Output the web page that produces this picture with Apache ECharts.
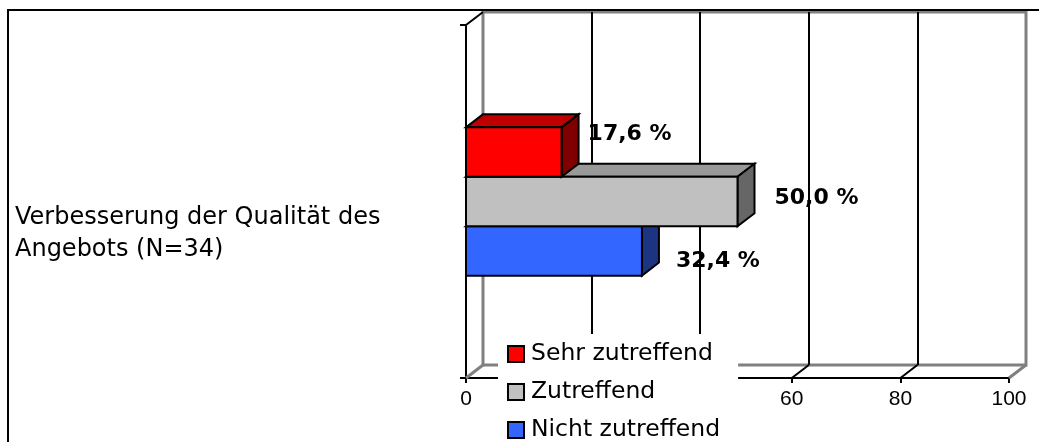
<!DOCTYPE html>
<html>
<head>
<meta charset="utf-8">
<script src="https://cdn.jsdelivr.net/npm/echarts@6/dist/echarts.min.js"></script>
<style>
  html, body { margin: 0; padding: 0; background: #fff; }
  #main { width: 1039px; height: 442px; }
</style>
</head>
<body>
<div id="main"></div>
<script>
var categories = ['Verbesserung der Qualität des\nAngebots (N=34)'];
var seriesNames = ['Sehr zutreffend', 'Zutreffend', 'Nicht zutreffend'];
var sehrZutreffend = [17.6];
var zutreffend = [50.0];
var nichtZutreffend = [32.4];
var axisTicks = [0, 20, 40, 60, 80, 100];

// 3D look: depth offset of the walls and bars
var DX = 17, DY = -13;

var looks = [
    { front: '#FF0000', top: '#C00000', side: '#800000', lx: 26, ly: -18, z: 6 },
    { front: '#C0C0C0', top: '#999999', side: '#666666', lx: 37, ly: -3, z: 5 },
    { front: '#3366FF', top: '#2648BF', side: '#1C3582', lx: 34, ly: 10, z: 4 }
];

function barSeries(k, values) {
    var look = looks[k];
    return {
        name: seriesNames[k],
        type: 'custom',
        xAxisIndex: 0,
        yAxisIndex: 0,
        z: look.z,
        itemStyle: { color: look.front, borderColor: '#000', borderWidth: 2 },
        data: values.map(function (v, i) { return [v, i]; }),
        renderItem: function (params, api) {
            var val = api.value(0);
            var cat = api.value(1);
            var p0 = api.coord([0, cat]);
            var p1 = api.coord([val, cat]);
            var band = api.size([0, 1])[1];
            var h = band * 0.14;
            var x0 = p0[0], x1 = p1[0];
            var y0 = p0[1] - 1.5 * h + k * h;
            var y1 = y0 + h;
            var line = { stroke: '#000', lineWidth: 2, lineJoin: 'miter' };
            return {
                type: 'group',
                children: [
                    { type: 'polygon', shape: { points: [[x0, y0], [x1, y0], [x1 + DX, y0 + DY], [x0 + DX, y0 + DY]] },
                      style: Object.assign({ fill: look.top }, line) },
                    { type: 'polygon', shape: { points: [[x1, y0], [x1 + DX, y0 + DY], [x1 + DX, y1 + DY], [x1, y1]] },
                      style: Object.assign({ fill: look.side }, line) },
                    { type: 'rect', shape: { x: x0, y: y0, width: x1 - x0, height: h },
                      style: Object.assign({ fill: look.front }, line) },
                    { type: 'text', x: x1 + look.lx, y: (y0 + y1) / 2 + look.ly,
                      style: { text: val.toFixed(1).replace('.', ',') + ' %', fill: '#000',
                               font: 'bold 22px "DejaVu Sans"', verticalAlign: 'middle', align: 'left' } }
                ]
            };
        }
    };
}

var option = {
    animation: false,
    backgroundColor: '#fff',
    grid: [
        { left: 466, right: 30, top: 25, bottom: 64 },
        { left: 483, right: 13, top: 12, bottom: 77, show: true,
          borderColor: '#808080', borderWidth: 3, backgroundColor: 'transparent' }
    ],
    xAxis: [
        {
            gridIndex: 0, type: 'value', min: 0, max: 100, interval: 20,
            axisLine: { show: true, lineStyle: { color: '#000', width: 2 } },
            axisTick: { show: true, length: 5, lineStyle: { color: '#000', width: 2 } },
            axisLabel: { color: '#000', fontFamily: 'Liberation Sans', fontSize: 21, margin: 11 },
            splitLine: { show: false }
        },
        {
            gridIndex: 1, type: 'value', min: 0, max: 100, interval: 20,
            axisLine: { show: false }, axisTick: { show: false }, axisLabel: { show: false },
            splitLine: { show: true, showMinLine: false, showMaxLine: false,
                         lineStyle: { color: '#000', width: 2 } }
        }
    ],
    yAxis: [
        {
            gridIndex: 0, type: 'category', data: categories, inverse: true,
            axisLine: { show: true, lineStyle: { color: '#000', width: 2 } },
            axisTick: { show: true, length: 6, lineStyle: { color: '#000', width: 2 } },
            axisLabel: { align: 'left', verticalAlign: 'top', margin: 451, color: '#000',
                         fontFamily: 'DejaVu Sans', fontSize: 24, lineHeight: 32 }
        },
        {
            gridIndex: 1, type: 'category', data: categories,
            axisLine: { show: false }, axisTick: { show: false }, axisLabel: { show: false },
            splitLine: { show: false }
        }
    ],
    legend: {
        data: seriesNames,
        orient: 'vertical',
        left: 498,
        top: 334,
        height: 108,
        backgroundColor: '#fff',
        padding: [8, 18, 4, 9],
        itemGap: 14,
        itemWidth: 16,
        itemHeight: 16,
        icon: 'rect',
        itemStyle: { borderColor: '#000', borderWidth: 2 },
        textStyle: { color: '#000', fontFamily: 'DejaVu Sans', fontSize: 23.5, lineHeight: 24, padding: [0, 0, 0, 2] }
    },
    graphic: [
        { type: 'polyline', shape: { points: [[8, 442], [8, 10], [1039, 10]] },
          style: { stroke: '#000', lineWidth: 2, fill: null } }
    ],
    series: [
        {
            // floor ticks and wall edges of the 3D frame
            type: 'custom',
            xAxisIndex: 0,
            yAxisIndex: 0,
            z: 1,
            silent: true,
            data: axisTicks.map(function (t) { return [t, 0]; }),
            renderItem: function (params, api) {
                var cs = params.coordSys;
                var t = api.value(0);
                var p = api.coord([t, 0]);
                var yb = cs.y + cs.height;
                var edge = (t === axisTicks[0] || t === axisTicks[axisTicks.length - 1]);
                var children = [
                    { type: 'line', shape: { x1: p[0], y1: yb, x2: p[0] + DX, y2: yb + DY },
                      style: { stroke: edge ? '#808080' : '#000', lineWidth: edge ? 3 : 2 } }
                ];
                if (params.dataIndex === 0) {
                    children.push({ type: 'line', shape: { x1: cs.x, y1: cs.y, x2: cs.x + DX, y2: cs.y + DY },
                                    style: { stroke: '#000', lineWidth: 2 } });
                }
                return { type: 'group', children: children };
            }
        },
        barSeries(0, sehrZutreffend),
        barSeries(1, zutreffend),
        barSeries(2, nichtZutreffend)
    ]
};

var chartDom = document.getElementById('main');
var myChart = echarts.init(chartDom);
myChart.setOption(option);
</script>
</body>
</html>
